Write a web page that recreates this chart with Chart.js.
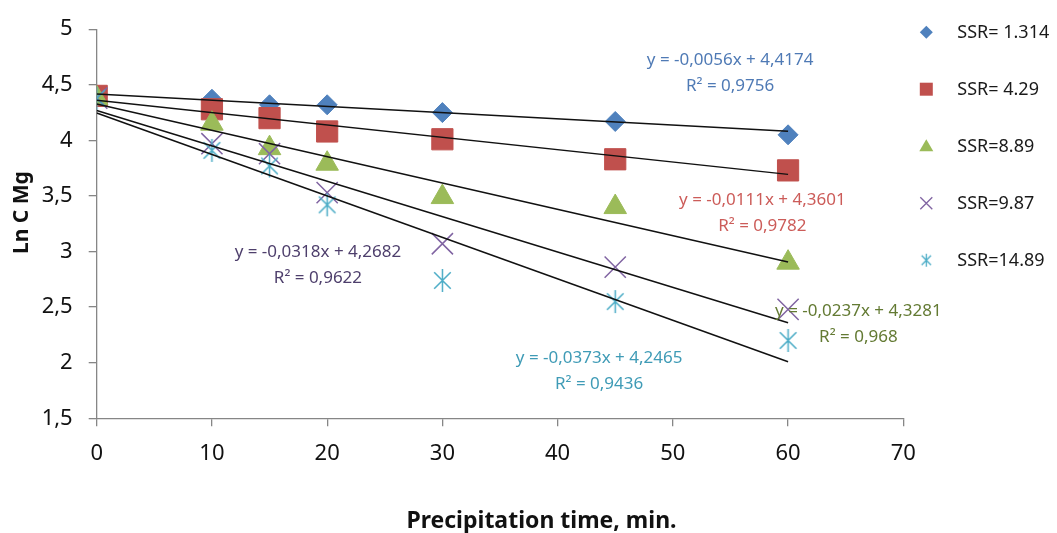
<!DOCTYPE html>
<html>
<head>
<meta charset="utf-8">
<script src="https://cdn.jsdelivr.net/npm/chart.js@4.4.1/dist/chart.umd.min.js"></script>
<style>
  html, body { margin: 0; padding: 0; background: #ffffff; }
  #wrap { width: 1057px; height: 533px; }
</style>
</head>
<body>
<div id="wrap"><canvas id="c" width="1057" height="533"></canvas></div>
<script>
// ---- data ----
const times = [0, 10, 15, 20, 30, 45, 60];
const seriesNames = ['SSR= 1.314', 'SSR= 4.29', 'SSR=8.89', 'SSR=9.87', 'SSR=14.89'];
const ssr1314 = [4.41, 4.37, 4.32, 4.32, 4.25, 4.17, 4.05];
const ssr429  = [4.40, 4.28, 4.20, 4.08, 4.01, 3.83, 3.73];
const ssr889  = [4.38, 4.15, 3.93, 3.79, 3.49, 3.40, 2.90];
const ssr987  = [4.38, 3.97, 3.88, 3.53, 3.07, 2.86, 2.48];
const ssr1489 = [4.38, 3.91, 3.77, 3.42, 2.74, 2.55, 2.20];
// trendline coefficients (y = slope*x + intercept), fitted range 0..60
const slopes     = [-0.0056, -0.0111, -0.0237, -0.0318, -0.0373];
const intercepts = [4.4174, 4.3601, 4.3281, 4.2682, 4.2465];
const rSquared   = ['0,9756', '0,9782', '0,968', '0,9622', '0,9436'];
const equationTexts = ['y = -0,0056x + 4,4174', 'y = -0,0111x + 4,3601', 'y = -0,0237x + 4,3281', 'y = -0,0318x + 4,2682', 'y = -0,0373x + 4,2465'];
// label anchors in data coordinates
const eqLabelX = [54.97, 57.77, 66.1, 19.2, 43.6];
const eqLabelY = [4.725, 3.465, 2.46, 2.995, 2.04];
const xTicks = [0, 10, 20, 30, 40, 50, 60, 70];
const yTicks = [1.5, 2, 2.5, 3, 3.5, 4, 4.5, 5];
const xTitle = 'Precipitation time, min.';
const yTitle = 'Ln C Mg';

const allSeries = [ssr1314, ssr429, ssr889, ssr987, ssr1489];
const colors = ['#4F81BD', '#C0504D', '#9BBB59', '#8064A2', '#4BACC6'];
const labelColors = ['#4F7AB5', '#CC5C59', '#637A33', '#4E3F6C', '#3F9BB6'];
const styles = ['rectRot', 'rect', 'triangle', 'crossRot', 'star'];
const radii = [10, 15, 13, 15, 12];

function makeStar(size, color, lw) {
  const cv = document.createElement('canvas');
  cv.width = size; cv.height = size;
  const g = cv.getContext('2d');
  g.strokeStyle = color; g.lineWidth = lw;
  const c = size / 2, r = size / 2 - 1;
  g.beginPath();
  g.moveTo(c, c - r); g.lineTo(c, c + r);
  const d = r * 0.72;
  g.moveTo(c - d, c - d); g.lineTo(c + d, c + d);
  g.moveTo(c + d, c - d); g.lineTo(c - d, c + d);
  g.stroke();
  return cv;
}
const starBig = makeStar(25, colors[4], 1.5);
const starSmall = makeStar(15, colors[4], 1.3);

const datasets = [];
allSeries.forEach((vals, i) => {
  datasets.push({
    type: 'scatter',
    label: seriesNames[i],
    data: times.map((t, k) => ({ x: t, y: vals[k] })),
    pointStyle: i === 4 ? starBig : styles[i],
    pointRadius: radii[i],
    pointHoverRadius: radii[i],
    backgroundColor: colors[i],
    borderColor: colors[i],
    pointBorderWidth: (i === 3) ? 1.5 : 1,
    showLine: false,
    order: 10 - i
  });
});
slopes.forEach((s, i) => {
  datasets.push({
    type: 'line',
    label: 'trend' + i,
    data: [{ x: 0, y: intercepts[i] }, { x: 60, y: intercepts[i] + s * 60 }],
    borderColor: '#111111',
    borderWidth: 1.5,
    pointRadius: 0,
    fill: false,
    order: -1
  });
});

const AXIS = '#868686';
const TICKFONT = { family: "'Noto Sans', sans-serif", size: 22 };

const overlay = {
  id: 'overlay',
  afterDraw(chart) {
    const ctx = chart.ctx;
    const xs = chart.scales.x, ys = chart.scales.y;
    ctx.save();
    // equation labels
    ctx.textAlign = 'center';
    ctx.textBaseline = 'middle';
    ctx.font = "17px 'Noto Sans', sans-serif";
    for (let i = 0; i < equationTexts.length; i++) {
      const px = xs.getPixelForValue(eqLabelX[i]);
      const py = ys.getPixelForValue(eqLabelY[i]);
      ctx.fillStyle = labelColors[i];
      ctx.fillText(equationTexts[i], px, py);
      ctx.fillText('R\u00B2 = ' + rSquared[i], px, py + 26);
    }
    // axis titles
    ctx.fillStyle = '#111';
    ctx.font = "bold 23px 'Noto Sans', sans-serif";
    ctx.fillText(xTitle, xs.getPixelForValue(38.6), chart.height - 12);
    ctx.save();
    ctx.translate(22, ys.getPixelForValue(3.35));
    ctx.rotate(-Math.PI / 2);
    ctx.font = "bold 21px 'Noto Sans', sans-serif";
    ctx.fillText(yTitle, 0, 0);
    ctx.restore();
    // legend
    const lx = chart.chartArea.right + 23;
    const ly0 = chart.chartArea.top + 3;
    const step = 57;
    ctx.textAlign = 'left';
    ctx.font = "18px 'Noto Sans', sans-serif";
    for (let i = 0; i < seriesNames.length; i++) {
      const y = ly0 + i * step;
      ctx.fillStyle = colors[i];
      ctx.strokeStyle = colors[i];
      ctx.lineWidth = 1.3;
      ctx.beginPath();
      if (i === 0) {
        ctx.moveTo(lx, y - 6.5); ctx.lineTo(lx + 6.5, y); ctx.lineTo(lx, y + 6.5); ctx.lineTo(lx - 6.5, y); ctx.closePath(); ctx.fill();
      } else if (i === 1) {
        ctx.rect(lx - 6.5, y - 6.5, 13, 13); ctx.fill();
      } else if (i === 2) {
        ctx.moveTo(lx, y - 7); ctx.lineTo(lx + 7, y + 5); ctx.lineTo(lx - 7, y + 5); ctx.closePath(); ctx.fill();
      } else if (i === 3) {
        ctx.moveTo(lx - 6, y - 6); ctx.lineTo(lx + 6, y + 6); ctx.moveTo(lx + 6, y - 6); ctx.lineTo(lx - 6, y + 6); ctx.stroke();
      } else {
        ctx.drawImage(starSmall, lx - 7.5, y - 7.5);
      }
      ctx.fillStyle = '#1a1a1a';
      ctx.fillText(seriesNames[i], lx + 31, y + 1);
    }
    ctx.restore();
  }
};

new Chart(document.getElementById('c'), {
  data: { datasets },
  options: {
    responsive: false,
    animation: false,
    devicePixelRatio: 1,
    layout: { padding: { top: 25, right: 153.7, left: 0, bottom: 0 } },
    plugins: { legend: { display: false }, tooltip: { enabled: false } },
    scales: {
      x: {
        type: 'linear',
        min: 0, max: 70,
        afterBuildTicks: s => { s.ticks = xTicks.map(v => ({ value: v })); },
        afterFit: s => { s.height = 114.7; },
        border: { color: AXIS, width: 1.3 },
        grid: { display: true, drawOnChartArea: false, drawTicks: true, tickLength: 8, color: AXIS, lineWidth: 1.3 },
        ticks: { color: '#111', font: TICKFONT, padding: 14, maxRotation: 0 },
        title: { display: false }
      },
      y: {
        type: 'linear',
        min: 1.5, max: 5,
        afterBuildTicks: s => { s.ticks = yTicks.map(v => ({ value: v })); },
        afterFit: s => { s.width = 96.7; },
        border: { color: AXIS, width: 1.3 },
        grid: { display: true, drawOnChartArea: false, drawTicks: true, tickLength: 8, color: AXIS, lineWidth: 1.3 },
        ticks: { color: '#111', font: TICKFONT, padding: 16, callback: v => String(v).replace('.', ',') },
        title: { display: false }
      }
    }
  },
  plugins: [overlay]
});
</script>
</body>
</html>
